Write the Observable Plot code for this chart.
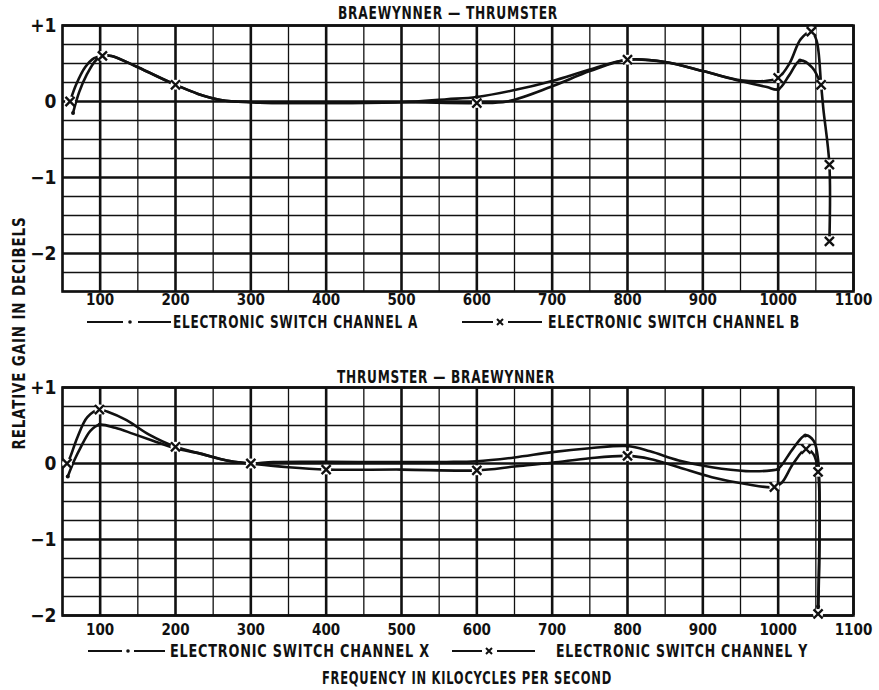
<!DOCTYPE html>
<html><head><meta charset="utf-8">
<script src="https://cdn.jsdelivr.net/npm/d3@7"></script>
<script src="https://cdn.jsdelivr.net/npm/@observablehq/plot@0.6"></script>
<style>
body{margin:0;background:#fff;}
#wrap{position:relative;width:879px;height:690px;overflow:hidden;font-family:"Liberation Sans Narrow","DejaVu Sans Condensed",sans-serif;font-weight:bold;color:#111;}
.t{position:absolute;white-space:nowrap;line-height:1;font-size:18px;letter-spacing:1px;}
.p{position:absolute;left:0;}
</style></head>
<body><div id="wrap"></div>
<script>
// ---------- data ----------
const xTicks = [100,200,300,400,500,600,700,800,900,1000,1100];
const yTicks = [1,0,-1,-2];
const yTickLabels = {"1":"+1","0":"0","-1":"\u22121","-2":"\u22122"};

// Top panel: BRAEWYNNER — THRUMSTER  (frequency kc, relative gain dB)
const topA = [[64,-0.15],[72,0.12],[82,0.35],[95,0.55],[105,0.6],[115,0.6],[150,0.45],[200,0.22],[230,0.1],[260,0.02],[300,-0.01],[400,-0.02],[500,-0.01],[560,0.03],[600,0.06],[650,0.15],[700,0.27],[750,0.42],[800,0.55],[850,0.52],[900,0.4],[950,0.27],[985,0.19],[1000,0.16],[1015,0.35],[1029,0.54],[1045,0.45],[1057,0.22]];
const topB = [[60,0],[68,0.22],[80,0.45],[92,0.57],[103,0.6],[115,0.6],[150,0.45],[200,0.22],[230,0.1],[260,0.02],[300,-0.01],[400,-0.02],[500,-0.01],[600,-0.02],[640,0],[700,0.2],[750,0.4],[800,0.55],[850,0.52],[900,0.4],[950,0.28],[983,0.27],[1000,0.31],[1015,0.5],[1030,0.82],[1044,0.92],[1051,0.8],[1057,0.22],[1060,-0.1],[1068,-0.83],[1068,-1.84]];
const topAMarks = [[64,-0.15],[600,0.06],[1000,0.16],[1029,0.54]];
const topBMarks = [[60,0],[103,0.6],[200,0.22],[600,-0.02],[800,0.55],[1000,0.31],[1044,0.92],[1057,0.22],[1068,-0.83],[1068,-1.84]];

// Bottom panel: THRUMSTER — BRAEWYNNER
const botX = [[57,-0.17],[66,0.05],[74,0.21],[87,0.43],[99,0.51],[120,0.47],[144,0.39],[170,0.3],[200,0.2],[233,0.13],[268,0.04],[300,0.0],[330,0.02],[450,0.02],[560,0.02],[600,0.03],[650,0.08],[700,0.15],[750,0.2],[800,0.23],[830,0.16],[868,0.04],[912,-0.05],[957,-0.1],[991,-0.09],[1000,-0.07],[1020,0.2],[1036,0.37],[1047,0.3],[1053,0.05],[1053,-1.88]];
const botY = [[56,0],[60,0.08],[70,0.35],[83,0.61],[99,0.71],[110,0.68],[135,0.57],[165,0.38],[200,0.22],[233,0.13],[268,0.04],[300,0],[350,-0.05],[400,-0.08],[500,-0.08],[600,-0.09],[650,-0.04],[700,0.01],[750,0.07],[800,0.1],[830,0.06],[868,-0.05],[912,-0.18],[957,-0.27],[995,-0.31],[1005,-0.25],[1020,0.0],[1037,0.19],[1047,0.12],[1053,-0.11],[1053,-1.98]];
const botXMarks = [[57,-0.17],[99,0.51],[800,0.23],[1000,-0.08],[1036,0.37],[1053,-1.88]];
const botYMarks = [[56,0],[99,0.71],[200,0.22],[300,0],[400,-0.08],[600,-0.09],[800,0.1],[995,-0.31],[1037,0.19],[1053,-0.11],[1053,-1.98]];

// grid
const gridMinorX = d3.range(50, 1101, 50).filter(v => v % 100 !== 0);
const gridMajorX = d3.range(100, 1101, 100);

const wrap = document.getElementById("wrap");
const FONT = '"Liberation Sans Narrow","DejaVu Sans Condensed",sans-serif';
const INK = "#111";

function panel(domainY, a, b, aMarks, bMarks, height, marginBottom, padX) {
  const minorY = d3.range(domainY[0], domainY[1] + 0.001, 0.25).filter(v => Math.abs(v - Math.round(v)) > 1e-6);
  const majorY = d3.range(Math.ceil(domainY[0]), domainY[1] + 0.001, 1);
  const toObj = arr => arr.map(([f, db]) => ({f, db}));
  return Plot.plot({
    width: 879, height, marginLeft: 62, marginRight: 26, marginTop: 25, marginBottom,
    style: {fontFamily: FONT, fontSize: "15px", fontWeight: "bold", color: INK, background: "transparent", overflow: "visible"},
    x: {domain: [50, 1100], label: null},
    y: {domain: domainY, label: null},
    marks: [
      Plot.ruleX(gridMinorX, {stroke: INK, strokeWidth: 1.3}),
      Plot.ruleX(gridMajorX, {stroke: INK, strokeWidth: 2.6}),
      Plot.ruleY(minorY, {stroke: INK, strokeWidth: 1.3}),
      Plot.ruleY(majorY, {stroke: INK, strokeWidth: 2.4}),
      Plot.frame({stroke: INK, strokeWidth: 2.6}),
      Plot.axisX({ticks: xTicks, tickSize: 0, tickPadding: padX, tickFormat: d => String(d), fontSize: 15, label: null}),
      Plot.axisY({ticks: yTicks, tickSize: 0, tickPadding: 6, tickFormat: d => yTickLabels[String(d)], fontSize: 19, label: null}),
      Plot.line(toObj(a), {x: "f", y: "db", curve: "catmull-rom", stroke: INK, strokeWidth: 2.6}),
      Plot.line(toObj(b), {x: "f", y: "db", curve: "catmull-rom", stroke: INK, strokeWidth: 2.6}),
      Plot.dot(toObj(bMarks), {x: "f", y: "db", r: 5, fill: "white", stroke: "none"}),
      Plot.dot(toObj(bMarks), {x: "f", y: "db", symbol: "times", r: 4.2, stroke: INK, strokeWidth: 2.4}),
      Plot.dot(toObj(aMarks), {x: "f", y: "db", r: 2, fill: INK, stroke: "none"})
    ]
  });
}

const p1 = panel([-2.5, 1], topA, topB, topAMarks, topBMarks, 318, 27, 3);
p1.classList.add("p"); p1.style.top = "0px";
wrap.appendChild(p1);
const p2 = panel([-2, 1], botX, botY, botXMarks, botYMarks, 284, 31, 9);
p2.classList.add("p"); p2.style.top = "362px";
wrap.appendChild(p2);

// ---------- texts ----------
function txt(s, x, y, width, anchor = "start", rotate = false, size = 18) {
  const d = document.createElement("div");
  d.className = "t";
  d.style.fontSize = size + "px";
  d.textContent = s;
  wrap.appendChild(d);
  const w = d.getBoundingClientRect().width;
  const k = width / w;
  d.style.left = x + "px"; d.style.top = y + "px";
  const tx = anchor === "middle" ? "-50%" : "0";
  d.style.transformOrigin = anchor === "middle" ? "50% 50%" : "0 50%";
  d.style.transform = `translate(${tx},-50%) ${rotate ? "rotate(-90deg) " : ""}scaleX(${k})`;
  return d;
}
txt("BRAEWYNNER \u2014 THRUMSTER", 448, 13, 220, "middle");
txt("THRUMSTER \u2014 BRAEWYNNER", 446, 377, 218, "middle");
txt("ELECTRONIC SWITCH CHANNEL A", 173, 322, 245);
txt("ELECTRONIC SWITCH CHANNEL B", 548, 322, 252);
txt("ELECTRONIC SWITCH CHANNEL X", 170, 651, 260);
txt("ELECTRONIC SWITCH CHANNEL Y", 556, 651, 252);
txt("FREQUENCY IN KILOCYCLES PER SECOND", 467, 678, 290, "middle", false, 17);
txt("RELATIVE GAIN IN DECIBELS", 19, 333, 233, "middle", true, 17);

// legend glyphs
const ns = "http://www.w3.org/2000/svg";
const lg = document.createElementNS(ns, "svg");
lg.setAttribute("width", 879); lg.setAttribute("height", 690);
lg.style.position = "absolute"; lg.style.left = "0"; lg.style.top = "0";
function seg(x1, x2, y) { const l = document.createElementNS(ns, "line"); l.setAttribute("x1", x1); l.setAttribute("x2", x2); l.setAttribute("y1", y); l.setAttribute("y2", y); l.setAttribute("stroke", INK); l.setAttribute("stroke-width", 2); lg.appendChild(l); }
function dotG(x, y) { const c = document.createElementNS(ns, "circle"); c.setAttribute("cx", x); c.setAttribute("cy", y); c.setAttribute("r", 1.8); c.setAttribute("fill", INK); lg.appendChild(c); }
function crossG(x, y) { const p = document.createElementNS(ns, "path"); p.setAttribute("d", `M${x-3},${y-3}L${x+3},${y+3}M${x-3},${y+3}L${x+3},${y-3}`); p.setAttribute("stroke", INK); p.setAttribute("stroke-width", 2); lg.appendChild(p); }
seg(87, 123, 322); dotG(130, 322); seg(138, 171, 322);
seg(462, 493, 322); crossG(500, 322); seg(508, 542, 322);
seg(88, 122, 651); dotG(128, 651); seg(134, 165, 651);
seg(452, 482, 651); crossG(489, 651); seg(497, 535, 651);
wrap.appendChild(lg);
</script></body></html>
